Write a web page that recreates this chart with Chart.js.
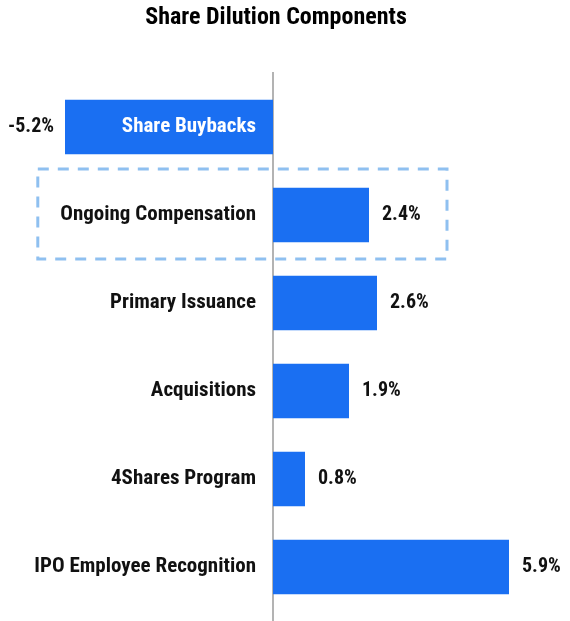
<!DOCTYPE html>
<html>
<head>
<meta charset="utf-8">
<script src="https://cdn.jsdelivr.net/npm/chart.js@4"></script>
<style>
  html, body { margin: 0; padding: 0; background: #fff; }
  #wrap { width: 570px; height: 621px; }
</style>
</head>
<body>
<div id="wrap"><canvas id="dilution"></canvas></div>
<script>
const categories = [
  'Share Buybacks',
  'Ongoing Compensation',
  'Primary Issuance',
  'Acquisitions',
  '4Shares Program',
  'IPO Employee Recognition'
];
const values = [-5.2, 2.4, 2.6, 1.9, 0.8, 5.9];
const highlighted = 'Ongoing Compensation';
const chartTitle = 'Share Dilution Components';

const FONT = "'Liberation Sans Narrow', 'Roboto Condensed', 'Roboto', sans-serif";
const BLUE = '#1a6ff2';

// title, zero line, labels and the dashed highlight box
const decorations = {
  id: 'decorations',
  beforeDatasetsDraw(chart) {
    const { ctx } = chart;
    const x0 = chart.scales.x.getPixelForValue(0);
    ctx.save();
    ctx.fillStyle = '#000';
    ctx.font = 'bold 24px ' + FONT;
    ctx.textAlign = 'center';
    ctx.textBaseline = 'middle';
    ctx.fillText(chartTitle, 276, 18);

    ctx.strokeStyle = '#9a9a9a';
    ctx.lineWidth = 1.5;
    ctx.beginPath();
    ctx.moveTo(x0, 72);
    ctx.lineTo(x0, chart.height);
    ctx.stroke();
    ctx.restore();
  },
  afterDatasetsDraw(chart) {
    const { ctx } = chart;
    const x = chart.scales.x, y = chart.scales.y;
    const x0 = x.getPixelForValue(0);
    const meta = chart.getDatasetMeta(0);
    ctx.save();
    ctx.textBaseline = 'middle';
    meta.data.forEach((bar, i) => {
      const v = values[i];
      const cy = bar.y;
      // category name
      ctx.font = 'bold 21px ' + FONT;
      ctx.textAlign = 'right';
      ctx.fillStyle = v < 0 ? '#ffffff' : '#111111';
      ctx.fillText(categories[i], x0 - 17, cy);
      // value
      ctx.font = 'bold 20px ' + FONT;
      ctx.fillStyle = '#111111';
      const txt = v.toFixed(1) + '%';
      if (v < 0) {
        ctx.textAlign = 'right';
        ctx.fillText(txt, bar.x - 11, cy);
      } else {
        ctx.textAlign = 'left';
        ctx.fillText(txt, bar.x + 13, cy);
      }
    });
    // dashed box round the highlighted row
    const idx = categories.indexOf(highlighted);
    const cy = y.getPixelForValue(idx);
    const left = x.getPixelForValue(-5.88), right = x.getPixelForValue(4.35);
    ctx.strokeStyle = '#8fc0f0';
    ctx.lineWidth = 3;
    ctx.setLineDash([11, 9]);
    ctx.strokeRect(left, cy - 46, right - left, 90);
    ctx.restore();
  }
};

new Chart(document.getElementById('dilution'), {
  type: 'bar',
  data: {
    labels: categories,
    datasets: [{
      data: values,
      backgroundColor: BLUE,
      borderWidth: 0,
      categoryPercentage: 1,
      barPercentage: 0.62
    }]
  },
  options: {
    indexAxis: 'y',
    responsive: true,
    maintainAspectRatio: false,
    animation: false,
    layout: { padding: { left: 0, right: 0, top: 83, bottom: 10 } },
    plugins: {
      legend: { display: false },
      tooltip: { enabled: false },
      title: { display: false }
    },
    scales: {
      x: { display: false, min: -6.825, max: 7.425 },
      y: { display: false }
    }
  },
  plugins: [decorations]
});
</script>
</body>
</html>
